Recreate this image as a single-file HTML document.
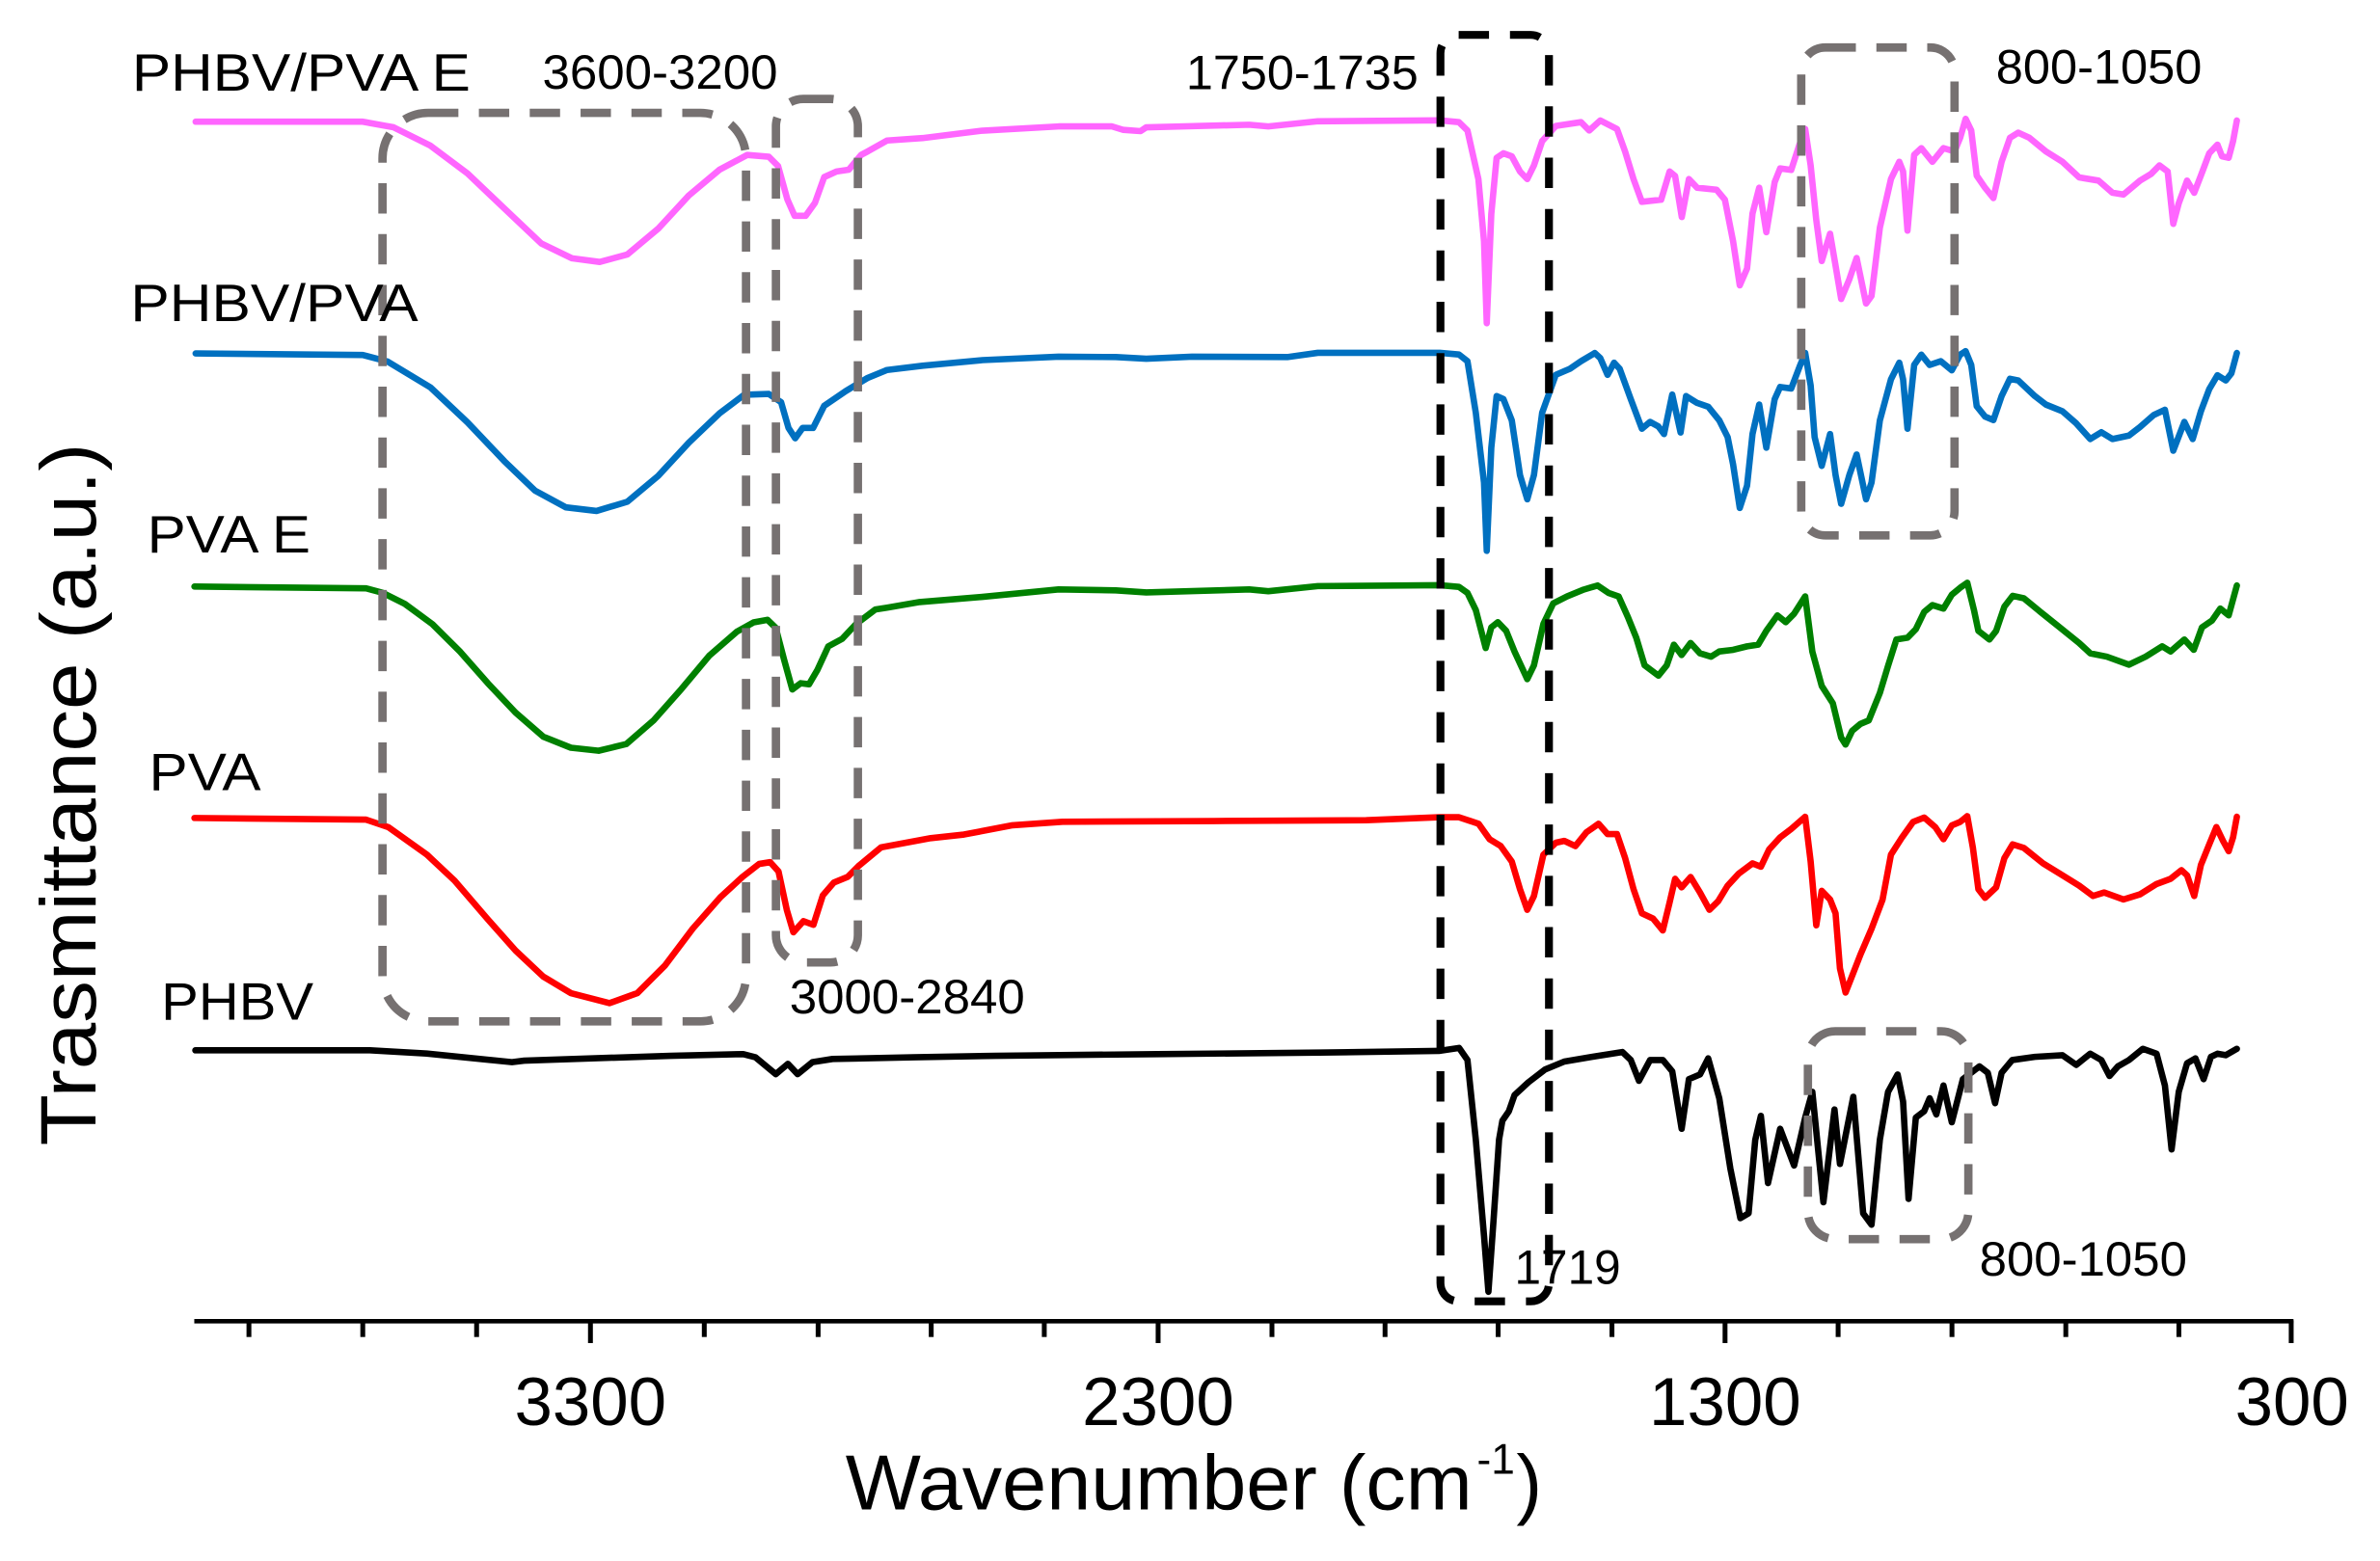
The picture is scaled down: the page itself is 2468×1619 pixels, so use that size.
<!DOCTYPE html>
<html>
<head>
<meta charset="utf-8">
<style>
html,body{margin:0;padding:0;background:#fff;}
svg{display:block;}
text{font-family:"Liberation Sans",Arial,sans-serif;fill:#000;}
</style>
</head>
<body>
<svg width="2468" height="1619" viewBox="0 0 1568 1028.6" preserveAspectRatio="none" xmlns="http://www.w3.org/2000/svg">
<rect x="0" y="0" width="1568" height="1028.6" fill="#fff"/>

<g fill="none" stroke-width="4.2" stroke-linejoin="round" stroke-linecap="round">
<!-- PHBV/PVA E magenta -->
<polyline stroke="#FF66FF" points="128.9,80.2 239,80.2 259.3,83.9 283.6,96 308,114.3 332.3,137.4 356.6,160.4 376.8,170.2 395.1,172.6 413.3,167.7 433.6,150.7 453.8,128.8 474.1,111.8 492.3,102.1 506.5,103.3 512.6,109.4 518.7,131.3 523.5,142.2 530.8,142.2 536.9,133.7 543,116.7 551.1,113 559.2,111.8 567.3,102.1 571.8,99.7 584.4,92.6 607.8,91 647.2,86.1 697.4,83.3 732.6,83.3 740.1,85.6 751.4,86.4 755.2,83.9 823,82.2 835.6,83.3 868.2,79.9 948.6,79.3 961.2,80.5 966.8,86 974,118 977.7,159 979.5,213 982.5,141 986,104 990.5,101 996,103 1001.4,113 1006.2,118 1010.6,109 1016,93 1025,83 1041.6,80.5 1047,86 1054.3,79.4 1065.3,85 1070.7,100 1076.2,118 1081.7,133 1094.4,131.6 1100,113 1103.6,116 1108,143 1112.7,118 1118.1,123.7 1130.9,125 1136.4,131.6 1141.8,159 1146.2,188 1151,177 1154.6,140.7 1159,123.7 1163.7,153 1169.2,120 1172.8,111 1180.1,112 1185.6,95 1189.3,85 1192.9,109 1196.6,145 1200.2,172 1205.7,154 1209.3,175 1213,197 1218.4,184 1223.2,170 1229.4,200 1233,195 1238.5,150 1245.8,118 1251.3,106.6 1253.8,113 1256.7,152 1261.1,102 1265.8,97.6 1273.1,106.6 1280.4,97.6 1287.7,99.8 1291.4,90.8 1295,78.3 1298.7,86 1302.3,115.7 1307.8,123.7 1313.3,130.5 1318.7,106.6 1324.2,90.8 1329.7,87.4 1337,90.8 1347.9,99.8 1358.8,106.6 1369.8,116.9 1382.5,119 1391.7,127 1399,128.2 1409.9,119 1417.2,114.6 1422.7,109 1428.1,113 1431.8,147.5 1435.4,134 1440.9,119 1445.6,127 1450,115.7 1455.5,101 1460.9,95.3 1463.9,103 1468.3,104 1471.2,93 1473.7,79.4"/>
<!-- PHBV/PVA blue -->
<polyline stroke="#0070C0" points="128.9,232.9 239,233.9 255.3,238.2 283.6,255.3 308,278.3 332.3,303.9 352.5,323.3 372.8,334.3 393,336.7 413.3,330.6 433.6,313.6 453.8,291.7 474.1,272.3 490.3,260.1 506.5,259.6 514.6,265 519.5,282 523.9,288.8 528.8,282 535.7,282 543,267.4 557.2,257.7 571.3,249.2 584.4,243.8 607.8,241 647.2,237.3 697.4,235 735.1,235.3 755.2,236.4 785.3,235 848.1,235.3 868.2,232.5 948.6,232.5 961.2,233.6 966.8,238 972.3,272 977.7,318 979.5,363 982.5,295 986,261 990.5,263 996,277 1001.4,313 1006.2,329 1010.6,313 1016,272 1025,247 1034.3,243 1041.6,238 1050.7,232.6 1054.3,236 1059.1,247 1063.4,239 1067.1,243 1074.4,263 1081.7,282.5 1087.1,278 1092.6,281 1096.3,286 1101.7,260 1107.2,285 1110.8,261 1118.1,265.5 1125.4,268 1132.7,277 1138.2,288 1141.8,306 1146.2,334.7 1151,320 1154.6,286 1159,266.6 1163.7,295 1169.2,263 1172.8,255 1180.1,256 1185.6,241.6 1189.3,232.6 1192.9,254 1195.5,288 1200.2,307 1205.7,286 1209.3,313 1213,332 1218.4,313 1223.2,299.5 1229.4,329 1233,318 1238.5,277 1245.8,250 1251.3,239 1253.8,250 1256.7,282.5 1261.1,240.5 1265.8,233.7 1271.3,240.5 1278.6,238 1285.9,244 1291.4,233.7 1295,231.4 1298.7,240.5 1302.3,267.7 1307.8,274.5 1313.3,276.8 1318.7,261 1324.2,249.6 1329.7,250.7 1340.6,261 1347.9,266.6 1358.8,271 1367.9,279 1377.1,289.3 1384.4,284.8 1391.7,289.3 1402.6,287 1409.9,281.4 1419,273.4 1426.3,270 1431.8,297 1439.1,278 1444.6,289.3 1450,271 1455.5,256.4 1460.9,247.3 1466.4,250.7 1470.1,246 1473.7,232.6"/>
<!-- PVA E green -->
<polyline stroke="#008000" points="128.1,386.5 241.2,387.7 252.1,390.6 266.7,397.9 284.9,411.3 303.2,429.5 321.4,450.2 339.7,469.6 357.9,485.4 376.1,492.7 394.4,494.7 412.6,490.3 430.8,474.5 449.1,453.8 467.3,432 485.5,416.2 496.5,410.1 505.6,408.4 511.1,413.7 516.5,434.4 522,454.3 527.5,450.2 533,450.9 538.4,441.7 545.7,425.9 554.8,421 563.9,411.3 576.7,401.6 584.4,400.4 605.9,396.7 647.2,393.3 697.4,388.4 735.1,389 755.2,390.4 823,388.4 835.6,389.6 868.2,386.2 948.6,385.6 961.2,386.7 966.8,390.7 972.3,402 978.8,427 982.5,413.4 986.8,410 992.3,415.7 997.8,429.3 1006.2,447.5 1010.6,438.4 1016.8,411.2 1023.3,397.6 1032.4,393 1043.4,388.5 1052.5,385.8 1059.8,390.7 1066.4,393 1072.5,406.6 1078,420.2 1083.5,438.4 1092.6,445.2 1098.1,438.4 1102.8,424.8 1107.9,431.6 1113.8,423.7 1120,430.5 1127.3,432.7 1132.7,429.3 1141.8,428.2 1151,425.9 1158.3,424.8 1163.7,415.7 1171,405.5 1176.5,410 1182,404.4 1189.3,393 1194,429.3 1200.2,452 1207.5,463.4 1213,486 1215.9,490.6 1220.3,481.5 1225.7,477 1231.2,474.7 1238.5,456.6 1244,438.4 1249.4,421.4 1256.7,420.2 1262.2,414.6 1267.7,403.2 1273.1,398.7 1280.4,401 1285.9,391.9 1291.4,387.3 1296.1,384 1300.5,402 1303.4,415.7 1310.7,421.4 1315.1,415.7 1320.5,399.8 1326,392.6 1333.3,394.2 1344.3,403.2 1357,413.4 1369.8,423.7 1377.1,430.5 1388,432.7 1402.6,438 1413.6,432.7 1424.5,425.9 1430,429.3 1439.1,421.4 1445.3,428.2 1450.7,413.4 1457.3,408.9 1462.8,401 1468.3,405.5 1473.7,385.8"/>
<!-- PVA red -->
<polyline stroke="#FF0000" points="128.1,539 241.2,540.1 255.8,545 281.3,563.2 299.5,580.3 321.4,605.8 339.7,626.4 357.9,643.5 376.1,654.4 401.6,661 419.9,654.4 438.1,636.2 456.4,611.9 474.6,591.2 489.2,577.8 500.1,569.3 507.4,568.1 512.9,574.2 518.4,599.7 522.7,614.3 529.3,607 535.9,609.4 542.1,590 549.4,581.5 558.5,577.8 565.8,570.5 580.4,558.4 613.2,552.3 635.1,549.9 667.1,543.8 700,541.5 800,541 900,540.5 948.6,538.5 961.2,538.5 974.1,542.8 981.4,553 988.7,557.5 996,567.7 1001.4,585.9 1006.2,599.5 1010.6,590.4 1016.8,563.2 1025.1,555.3 1030.6,554.1 1037.9,557.5 1045.2,548.4 1053.2,542.8 1059.1,549.6 1065.3,549.6 1070.7,565.5 1076.2,585.9 1081.7,601.8 1089,605.2 1095.5,613.1 1099.9,595 1103.6,579.1 1107.9,584.7 1113.8,577.9 1120,588.1 1126.2,599.5 1132,593.8 1138.2,583.6 1145.5,575.7 1154.6,568.9 1160.1,571.1 1165.5,559.8 1172.8,551.8 1180.1,546.2 1189.3,538.2 1192.9,567.7 1196.6,609.7 1200.2,587 1205.7,592.7 1209.3,601.8 1212.2,638.1 1215.9,654 1219.5,644.9 1225.7,629 1233,612 1240.3,592.7 1245.8,563.2 1253.1,551.8 1260.4,541.6 1267.7,538.7 1275,545 1280.4,553 1285.9,543.9 1291.4,541.6 1296.1,537.8 1299.8,558.7 1303.4,585.9 1307.8,591.6 1315.1,584.7 1320.5,565.5 1326,556.4 1333.3,558.7 1346,568.9 1358.8,576.8 1369.8,583.6 1378.9,590.4 1386.2,588.1 1399,592.7 1409.9,589.3 1420.8,582.5 1430,579.1 1437.2,573.4 1440.9,576.8 1445.6,590.4 1450,570 1455.5,556.4 1460.2,545 1464.6,554.1 1468.3,560.9 1471.2,551.8 1473.7,538.2"/>
<!-- PHBV black -->
<polyline stroke="#000000" points="128.7,692.1 243.7,692.1 281.1,694.2 337.3,699.9 345.3,698.9 441.6,695.7 489.7,694.6 497.7,696.7 511.1,707.8 519.1,701 525.5,707.8 535.2,699.9 548.5,697.8 602,696.7 655.5,695.7 762.5,694.6 869.4,693.6 948,692.5 961.3,690.5 966.8,698.5 972.3,751 977.7,814.3 980.6,851.2 984,803.8 987.6,751 989.8,738.5 994.1,732.2 997.8,721.6 1006.9,713.2 1017.8,704.8 1030.6,699.5 1048.8,696.4 1068.9,693.2 1074.4,698.5 1079.8,712.2 1087.1,698.5 1095.5,698.5 1101.7,705.9 1107.9,743.8 1112.7,711.1 1120,708 1125.4,697.4 1132.7,723.7 1140,770 1146.6,802.7 1152,799.5 1156.4,751.1 1160.1,735.3 1164.8,779.6 1172.8,743.8 1182,768 1189.3,736.4 1194,719.5 1201.3,792.2 1208.6,731.1 1212.2,767 1221,722.7 1227.5,799.5 1233,807 1238.5,751 1243.9,719.5 1250.2,708 1253.8,725.9 1257.4,790 1262.2,736.4 1267.7,732.2 1271.3,723.7 1275.7,734.3 1280.4,715.3 1285.9,739.5 1293.2,711.1 1304.1,702.7 1309.6,706.9 1314.4,726.9 1318.7,706.9 1325.7,698.5 1340.6,696.4 1358.8,695.3 1367.9,701.7 1377.1,694.3 1384.4,698.5 1389.8,709 1395.3,702.7 1402.6,698.5 1411.7,691.1 1420.8,694.3 1426.3,715.3 1430.7,757.4 1435.4,719.5 1440.9,700.6 1446.4,697.4 1451.8,711.1 1456.6,696.4 1461,694.3 1466.4,695.3 1473.7,691.1"/>
</g>

<!-- dashed boxes -->
<g fill="none" stroke="#767171" stroke-width="5.5" stroke-dasharray="20 13.5">
<rect x="252" y="74.4" width="239.5" height="598.6" rx="30" ry="30"/>
<rect x="511.2" y="65.2" width="54" height="569" rx="18" ry="18"/>
<rect x="1186.7" y="31.3" width="101" height="321.5" rx="16" ry="16"/>
<rect x="1191.1" y="679.5" width="105.7" height="137" rx="18" ry="18"/>
</g>
<rect x="949" y="23" width="71.5" height="834.5" rx="12" ry="12" fill="none" stroke="#000" stroke-width="5.2" stroke-dasharray="20 13.8"/>

<!-- axis -->
<line x1="128" y1="870.6" x2="1511" y2="870.6" stroke="#000" stroke-width="3"/>
<g stroke="#000" stroke-width="3.2">
<line x1="164" y1="870" x2="164" y2="881"/>
<line x1="239" y1="870" x2="239" y2="881"/>
<line x1="314" y1="870" x2="314" y2="881"/>
<line x1="389" y1="870" x2="389" y2="885"/>
<line x1="464" y1="870" x2="464" y2="881"/>
<line x1="539" y1="870" x2="539" y2="881"/>
<line x1="613.5" y1="870" x2="613.5" y2="881"/>
<line x1="688" y1="870" x2="688" y2="881"/>
<line x1="763" y1="870" x2="763" y2="885"/>
<line x1="838" y1="870" x2="838" y2="881"/>
<line x1="912.5" y1="870" x2="912.5" y2="881"/>
<line x1="987" y1="870" x2="987" y2="881"/>
<line x1="1062" y1="870" x2="1062" y2="881"/>
<line x1="1136.5" y1="870" x2="1136.5" y2="885"/>
<line x1="1211" y1="870" x2="1211" y2="881"/>
<line x1="1286" y1="870" x2="1286" y2="881"/>
<line x1="1361" y1="870" x2="1361" y2="881"/>
<line x1="1435.5" y1="870" x2="1435.5" y2="881"/>
<line x1="1509.5" y1="870" x2="1509.5" y2="885"/>
</g>
<g font-size="45" text-anchor="middle">
<text x="389" y="939">3300</text>
<text x="763" y="939">2300</text>
<text x="1136.5" y="939">1300</text>
<text x="1510" y="939">300</text>
</g>

<!-- axis titles -->
<text x="557" y="994.5" font-size="51" textLength="413" lengthAdjust="spacingAndGlyphs">Wavenumber (cm</text>
<text x="973" y="971" font-size="28" textLength="25" lengthAdjust="spacingAndGlyphs">-1</text>
<text x="999" y="994.5" font-size="51">)</text>
<text transform="translate(63,523.5) rotate(-90)" x="0" y="0" font-size="52" text-anchor="middle" textLength="463" lengthAdjust="spacingAndGlyphs">Trasmittance (a.u.)</text>

<!-- series labels -->
<g font-size="34.5">
<text x="87" y="59.6" textLength="223" lengthAdjust="spacingAndGlyphs">PHBV/PVA E</text>
<text x="86" y="211.5" textLength="189.5" lengthAdjust="spacingAndGlyphs">PHBV/PVA</text>
<text x="97" y="364" textLength="107.6" lengthAdjust="spacingAndGlyphs">PVA E</text>
<text x="98.2" y="520.7" textLength="73.7" lengthAdjust="spacingAndGlyphs">PVA</text>
<text x="106.2" y="672" textLength="100.3" lengthAdjust="spacingAndGlyphs">PHBV</text>
</g>
<g font-size="32">
<text x="357.4" y="58.3" textLength="155" lengthAdjust="spacingAndGlyphs">3600-3200</text>
<text x="520.2" y="667.8" textLength="155" lengthAdjust="spacingAndGlyphs">3000-2840</text>
<text x="781.4" y="58.9" textLength="153" lengthAdjust="spacingAndGlyphs">1750-1735</text>
<text x="1315" y="55" textLength="135.7" lengthAdjust="spacingAndGlyphs">800-1050</text>
<text x="997.8" y="846" textLength="70" lengthAdjust="spacingAndGlyphs">1719</text>
<text x="1304.1" y="840.6" textLength="136.8" lengthAdjust="spacingAndGlyphs">800-1050</text>
</g>
</svg>
</body>
</html>
